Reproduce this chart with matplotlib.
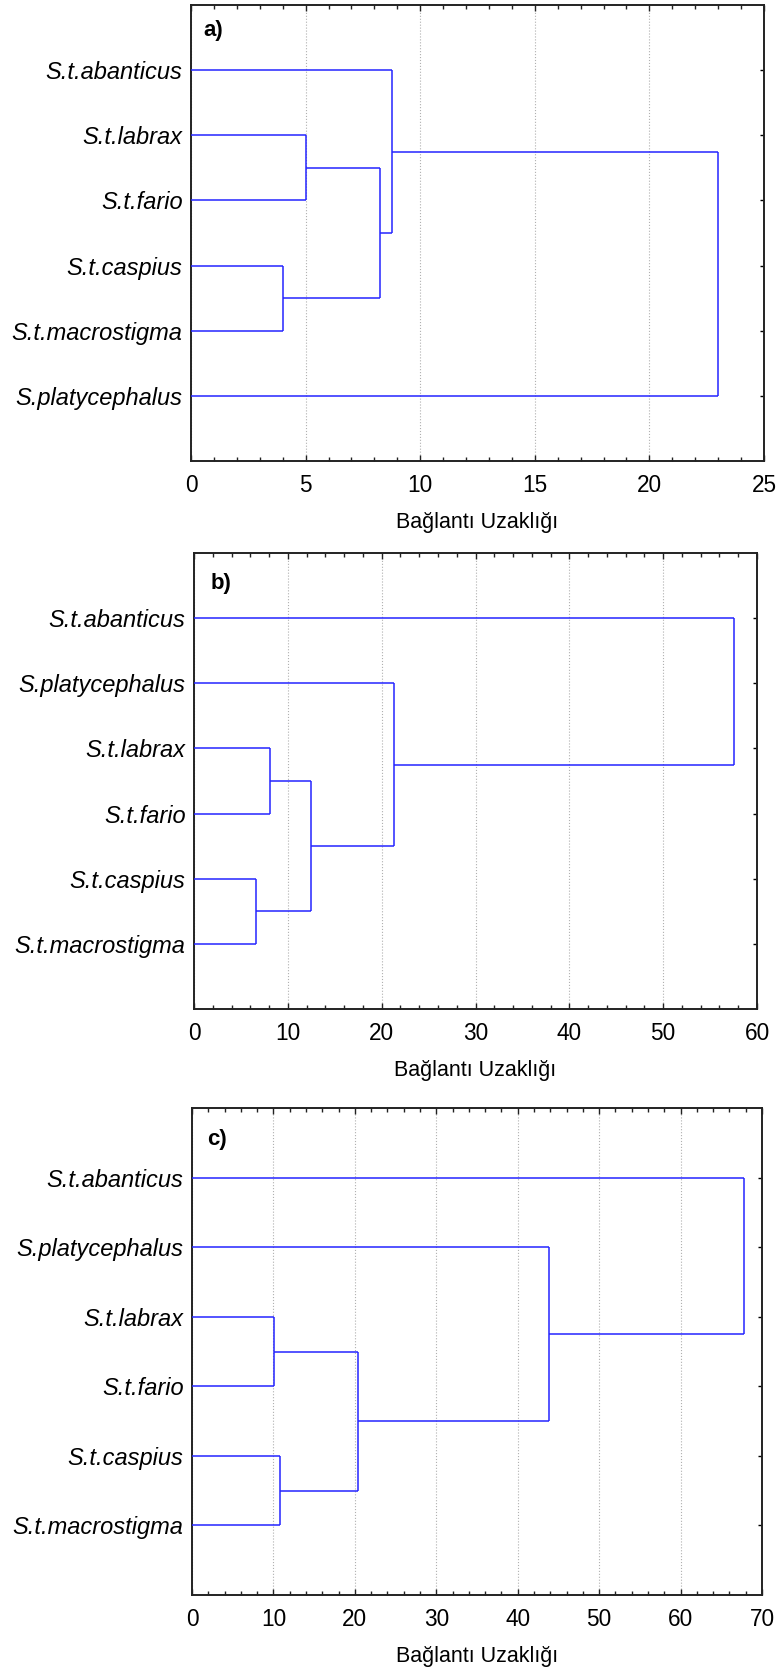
import matplotlib
matplotlib.use("Agg")
import matplotlib.pyplot as plt
from matplotlib.ticker import MultipleLocator

plt.rcParams['font.family'] = ['Liberation Sans', 'DejaVu Sans']

# ── data: leaf order (top to bottom) and merges for each dendrogram ──
leaves_a = ["S.t.abanticus", "S.t.labrax", "S.t.fario",
            "S.t.caspius", "S.t.macrostigma", "S.platycephalus"]
pairs_a = [("S.t.caspius", "S.t.macrostigma"), ("S.t.labrax", "S.t.fario"),
           (1, 0), ("S.t.abanticus", 2), (3, "S.platycephalus")]
heights_a = [4.0, 5.0, 8.25, 8.77, 23.0]

leaves_b = ["S.t.abanticus", "S.platycephalus", "S.t.labrax",
            "S.t.fario", "S.t.caspius", "S.t.macrostigma"]
pairs_b = [("S.t.caspius", "S.t.macrostigma"), ("S.t.labrax", "S.t.fario"),
           (1, 0), ("S.platycephalus", 2), ("S.t.abanticus", 3)]
heights_b = [6.6, 8.05, 12.5, 21.35, 57.5]

leaves_c = ["S.t.abanticus", "S.platycephalus", "S.t.labrax",
            "S.t.fario", "S.t.caspius", "S.t.macrostigma"]
pairs_c = [("S.t.labrax", "S.t.fario"), ("S.t.caspius", "S.t.macrostigma"),
           (0, 1), ("S.platycephalus", 2), ("S.t.abanticus", 3)]
heights_c = [10.1, 10.85, 20.35, 43.8, 67.75]

panel_letters = ["a)", "b)", "c)"]
x_max = [25, 60, 70]
x_major = [5, 10, 10]
x_minor = [1, 2, 2]
x_label = "Bağlantı Uzaklığı"

LINE = '#2424ff'
W, H = 784, 1675
# axes boxes in pixels: left, right, top, bottom
boxes = [(191, 764, 5, 461), (194, 757, 553, 1009), (192, 762, 1108, 1595)]
letter_off = [(12, -26), (17, -31), (15, -32)]


def draw_dendro(ax, leaves, pairs, heights):
    ypos = {name: i + 1 for i, name in enumerate(leaves)}
    node_y, node_h = [], []

    def get(c):
        if isinstance(c, int):
            return node_y[c], node_h[c]
        return ypos[c], 0.0

    for (c1, c2), h in zip(pairs, heights):
        y1, h1 = get(c1)
        y2, h2 = get(c2)
        ax.plot([h1, h], [y1, y1], color=LINE, lw=1.1, solid_capstyle='butt', zorder=3)
        ax.plot([h2, h], [y2, y2], color=LINE, lw=1.1, solid_capstyle='butt', zorder=3)
        ax.plot([h, h], [y1, y2], color=LINE, lw=1.1, solid_capstyle='butt', zorder=3)
        node_y.append((y1 + y2) / 2)
        node_h.append(h)


fig = plt.figure(figsize=(W / 100, H / 100), dpi=100)
data = [(leaves_a, pairs_a, heights_a), (leaves_b, pairs_b, heights_b),
        (leaves_c, pairs_c, heights_c)]

for k, (leaves, pairs, heights) in enumerate(data):
    l, r, t, b = boxes[k]
    ax = fig.add_axes([l / W, 1 - b / H, (r - l) / W, (b - t) / H])
    draw_dendro(ax, leaves, pairs, heights)

    ax.set_xlim(0, x_max[k])
    ax.set_ylim(7, 0)
    ax.xaxis.set_major_locator(MultipleLocator(x_major[k]))
    ax.xaxis.set_minor_locator(MultipleLocator(x_minor[k]))
    ax.set_yticks(range(1, len(leaves) + 1))
    ax.set_yticklabels(leaves, fontstyle='italic', fontsize=17)

    ax.tick_params(axis='x', which='both', direction='in', top=True, bottom=True,
                   labelsize=16.3, pad=9, colors='#222222', labelcolor='black')
    ax.tick_params(axis='x', which='major', length=4, width=1.0)
    ax.tick_params(axis='x', which='minor', length=3, width=1.0)
    ax.tick_params(axis='y', direction='in', left=False, right=True,
                   length=3, width=1.0, pad=6)

    ax.grid(axis='x', which='major', linestyle=':', color='#b0b0b0', lw=0.8)
    for s in ax.spines.values():
        s.set_linewidth(1.4)
        s.set_color('#222222')

    ax.set_xlabel(x_label, fontsize=15.5, labelpad=11)
    ax.annotate(panel_letters[k], xy=(0, 1), xycoords='axes fraction',
                xytext=letter_off[k], textcoords='offset pixels',
                ha='left', va='center', fontsize=16, fontweight='bold')

fig.savefig('out.png', dpi=100)
